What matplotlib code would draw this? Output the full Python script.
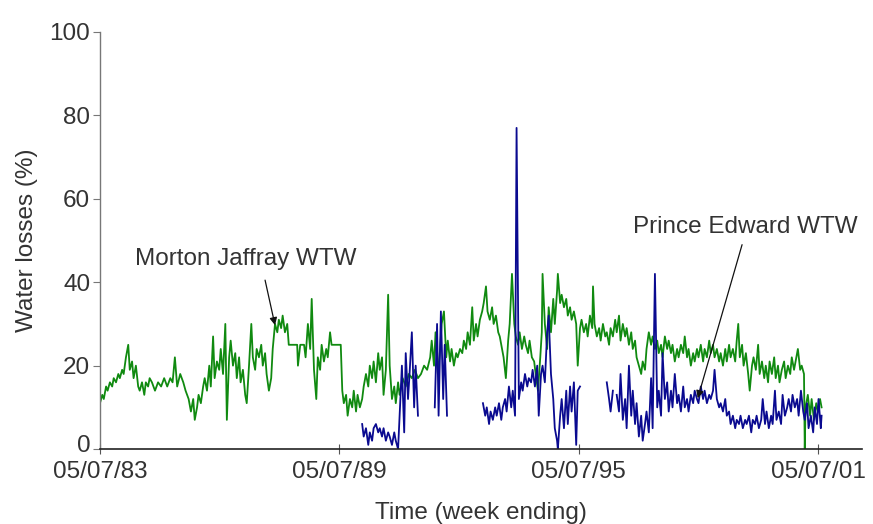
import numpy as np
import pandas as pd
import matplotlib
matplotlib.use("Agg")
import matplotlib.pyplot as plt
import matplotlib.dates as mdates
import matplotlib.transforms as mtransforms

plt.rcParams['font.family'] = ['Liberation Sans', 'DejaVu Sans']

# Weekly water-loss records, weeks counted from the week ending 05/07/83
START = pd.Timestamp("1983-07-05")

morton_week = [0, 3, 5, 8, 10, 13, 16, 18, 21, 24, 26, 29, 31, 34, 37, 39, 42, 44, 47, 50,
               52, 55, 58, 60, 63, 65, 68, 72, 76, 80, 84, 88, 92, 95, 98, 101, 105, 109, 112, 116,
               119, 122, 124, 127, 129, 132, 135, 137, 140, 143, 145, 148, 150, 153, 156, 158, 161, 164, 166, 169,
               171, 174, 177, 179, 182, 184, 187, 190, 192, 195, 198, 200, 203, 205, 208, 211, 213, 216, 218, 221,
               224, 226, 229, 232, 234, 237, 239, 242, 245, 247, 258, 259, 262, 267, 269, 272, 275, 277, 280, 283,
               285, 288, 290, 293, 296, 298, 301, 303, 315, 317, 319, 322, 324, 327, 330, 332, 335, 337, 340, 343,
               345, 348, 351, 353, 356, 358, 361, 364, 366, 369, 371, 374, 377, 379, 382, 385, 387, 390, 392, 396,
               400, 404, 408, 412, 416, 420, 424, 428, 432, 434, 437, 439, 442, 445, 447, 450, 453, 455, 458, 460,
               463, 466, 468, 471, 474, 476, 479, 481, 484, 487, 489, 492, 494, 497, 500, 502, 505, 507, 510, 513,
               515, 518, 521, 523, 526, 528, 531, 534, 536, 539, 542, 544, 547, 549, 552, 555, 557, 560, 562, 565,
               568, 570, 573, 576, 578, 579, 582, 585, 587, 590, 593, 595, 598, 599, 602, 604, 607, 610, 612, 615,
               617, 620, 623, 625, 628, 630, 633, 636, 638, 641, 644, 645, 647, 650, 653, 655, 658, 661, 663, 666,
               668, 671, 674, 676, 679, 681, 684, 687, 689, 692, 695, 697, 700, 702, 705, 708, 710, 713, 715, 718,
               721, 723, 726, 729, 731, 734, 736, 739, 742, 744, 747, 749, 752, 755, 757, 760, 763, 765, 768, 770,
               773, 776, 778, 781, 783, 786, 789, 791, 794, 797, 799, 802, 804, 807, 810, 812, 815, 818, 820, 823,
               825, 828, 831, 833, 835, 837, 840, 842, 845, 848, 850, 853, 855, 858, 861, 863, 866, 869, 871, 874,
               876, 879, 882, 884, 887, 889, 892, 895, 897, 900, 903, 905, 908, 910, 913, 916, 918, 921, 922, 923,
               926, 929, 931, 934, 937, 939, 942, 944]
morton_loss = [11, 13, 12, 15, 14, 16, 15, 17, 16, 18, 17, 19, 18, 22, 25, 19, 21, 17, 20, 15,
               14, 16, 13, 16, 15, 17, 16, 14, 16, 15, 17, 15, 17, 16, 22, 15, 18, 16, 14, 12,
               9, 12, 7, 10, 13, 11, 15, 17, 14, 20, 15, 27, 17, 21, 19, 24, 18, 30, 7, 22,
               26, 20, 23, 17, 22, 16, 19, 13, 11, 20, 30, 22, 19, 24, 22, 25, 20, 23, 18, 14,
               17, 24, 30, 28, 31, 29, 32, 28, 30, 25, 25, 20, 25, 25, 22, 30, 24, 36, 19, 12,
               22, 19, 25, 21, 24, 22, 28, 25, 25, 14, 11, 13, 8, 12, 10, 14, 9, 13, 10, 12,
               15, 18, 15, 20, 17, 21, 16, 23, 19, 22, 13, 19, 37, 20, 12, 15, 11, 16, 13, 17,
               15, 18, 17, 19, 17, 18, 20, 19, 22, 26, 20, 28, 18, 24, 30, 33, 22, 26, 21, 24,
               20, 23, 22, 24, 23, 26, 24, 28, 25, 34, 26, 30, 27, 31, 33, 35, 39, 33, 31, 34,
               30, 32, 28, 27, 24, 22, 17, 26, 30, 42, 30, 27, 25, 28, 24, 27, 25, 23, 26, 22,
               21, 18, 14, 22, 28, 42, 30, 24, 34, 28, 36, 30, 38, 42, 35, 37, 34, 36, 32, 34,
               31, 33, 30, 20, 29, 31, 28, 30, 27, 32, 29, 39, 30, 27, 29, 26, 30, 27, 28, 25,
               29, 27, 31, 28, 32, 26, 30, 27, 29, 25, 28, 24, 26, 22, 20, 18, 21, 19, 24, 28,
               25, 27, 24, 26, 23, 25, 22, 27, 24, 26, 23, 25, 21, 24, 22, 25, 23, 27, 22, 24,
               20, 23, 21, 24, 22, 25, 21, 24, 22, 26, 23, 25, 22, 24, 21, 23, 20, 24, 21, 25,
               22, 24, 21, 26, 30, 22, 25, 20, 23, 18, 14, 20, 22, 19, 25, 18, 21, 17, 20, 16,
               21, 18, 22, 17, 20, 16, 19, 21, 17, 20, 18, 22, 19, 21, 24, 19, 20, 18, 0, 10,
               13, 8, 12, 7, 11, 9, 12, 10]

# NaN entries mark weeks with no record
prince_week = [343, 345, 348, 351, 353, 356, 358, 361, 364, 366, 369, 371, 374, 377, 379, 382, 385, 387, 390, 392,
               395, 398, 400, 403, 405, 408, 411, 413, 416, 425,
               438, 441, 443, 446, 449, 451, 454, 470,
               501, 504, 506, 509, 511, 514, 517, 519, 522, 525, 527, 530, 532, 535, 538, 540, 543, 545, 548, 551,
               553, 556, 559, 561, 564, 566, 569, 572, 574, 577, 579, 582, 585, 587, 590, 593, 595, 598, 599, 602,
               604, 607, 610, 612, 615, 617, 620, 623, 625, 628, 640,
               663, 666, 668, 671, 673,
               676, 679, 681, 684, 687, 689, 692, 695, 697, 700, 702, 705, 708, 710, 713, 715, 718, 721, 723, 726,
               729, 731, 734, 736, 739, 742, 744, 747, 749, 752, 755, 757, 760, 763, 765, 768, 770, 773, 776, 778,
               781, 783, 786, 789, 791, 794, 797, 799, 802, 804, 807, 810, 812, 815, 818, 820, 823, 825, 828, 831,
               833, 836, 838, 841, 844, 846, 849, 852, 854, 857, 859, 862, 865, 867, 870, 872, 875, 878, 880, 883,
               885, 888, 891, 893, 896, 899, 901, 904, 906, 909, 912, 914, 917, 920, 922, 925, 927, 930, 933, 935,
               938, 940, 943, 944]
prince_loss = [6, 3, 5, 1, 4, 2, 5, 6, 4, 5, 3, 5, 2, 4, 3, 1, 4, 2, 0, 8,
               20, 4, 23, 12, 18, 28, 10, 20, 8, np.nan,
               10, 30, 8, 33, 12, 25, 8, np.nan,
               11, 8, 10, 6, 9, 7, 10, 8, 11, 7, 10, 12, 9, 15, 10, 14, 8, 77, 12, 16,
               14, 18, 15, 17, 16, 19, 15, 20, 8, 18, 20, 16, 28, 32, 18, 12, 5, 2, 0, 8,
               12, 5, 14, 6, 15, 9, 16, 1, 14, 15, np.nan,
               16, 12, 9, 14, np.nan,
               13, 9, 18, 7, 12, 5, 20, 8, 14, 6, 11, 3, 8, 2, 6, 9, 4, 17, 5, 42,
               10, 14, 8, 23, 12, 16, 9, 14, 10, 18, 11, 13, 9, 15, 10, 12, 9, 13, 11, 14,
               12, 11, 15, 12, 14, 11, 13, 12, 14, 19, 12, 10, 11, 9, 12, 8, 9, 6, 8, 5,
               7, 6, 8, 5, 7, 6, 8, 4, 7, 6, 8, 5, 7, 12, 6, 9, 5, 8, 6, 14,
               7, 9, 6, 13, 8, 10, 12, 9, 13, 10, 12, 8, 14, 9, 7, 11, 5, 8, 4, 10,
               6, 12, 5, 8]

tick_labels = ["05/07/83", "05/07/89", "05/07/95", "05/07/01"]

morton_dates = START + pd.to_timedelta(np.array(morton_week) * 7, unit="D")
prince_dates = START + pd.to_timedelta(np.array(prince_week) * 7, unit="D")
tick_dates = pd.to_datetime(tick_labels, format="%d/%m/%y")

FS = 17.5
TXT = "#333333"

fig = plt.figure(figsize=(8.73, 5.24), dpi=100)
ax = fig.add_axes([0.1145, 0.143, 0.873, 0.796])

ax.plot(morton_dates, morton_loss, color="#108a10", lw=1.3)
ax.plot(prince_dates, prince_loss, color="#0a0a90", lw=1.3)

ax.set_ylim(0, 100)
ax.set_xlim(START, START + pd.Timedelta(days=997 * 7))
ax.set_yticks(range(0, 101, 20))
ax.set_xticks(tick_dates)
ax.xaxis.set_major_formatter(mdates.DateFormatter("%d/%m/%y"))

for side in ("top", "right"):
    ax.spines[side].set_visible(False)
ax.spines["left"].set_color("#777777")
ax.spines["bottom"].set_color("#222222")
ax.spines["left"].set_linewidth(1.0)
ax.spines["bottom"].set_linewidth(1.2)
ax.tick_params(axis="y", direction="out", length=5, color="#777777",
               labelsize=FS, labelcolor=TXT, pad=2)
ax.tick_params(axis="x", direction="inout", length=7, color="#555555",
               labelsize=FS, labelcolor=TXT, pad=5)

# lift the "0" label a little so it clears the first date label
zero_label = ax.yaxis.get_major_ticks()[0].label1
zero_label.set_transform(zero_label.get_transform()
                         + mtransforms.ScaledTranslation(0, 4 / 72, fig.dpi_scale_trans))

ax.set_ylabel("Water losses (%)", fontsize=FS, color=TXT, labelpad=8)
ax.set_xlabel("Time (week ending)", fontsize=FS, color=TXT, labelpad=14)

def wk(n):
    return START + pd.Timedelta(days=7 * n)

ax.text(wk(191), 45.5, "Morton Jaffray WTW", fontsize=FS, color=TXT,
        ha="center", va="center")
ax.annotate("", xy=(wk(229), 29.7), xytext=(wk(216), 40.5),
            arrowprops=dict(arrowstyle="-|>", color="#111111", lw=0.9,
                            mutation_scale=11, shrinkA=0, shrinkB=0))

ax.text(wk(697), 53.2, "Prince Edward WTW", fontsize=FS, color=TXT,
        ha="left", va="center")
ax.annotate("", xy=(wk(782), 12.2), xytext=(wk(840), 49),
            arrowprops=dict(arrowstyle="-|>", color="#111111", lw=0.9,
                            mutation_scale=11, shrinkA=0, shrinkB=0))

fig.savefig("out.png", dpi=100)
